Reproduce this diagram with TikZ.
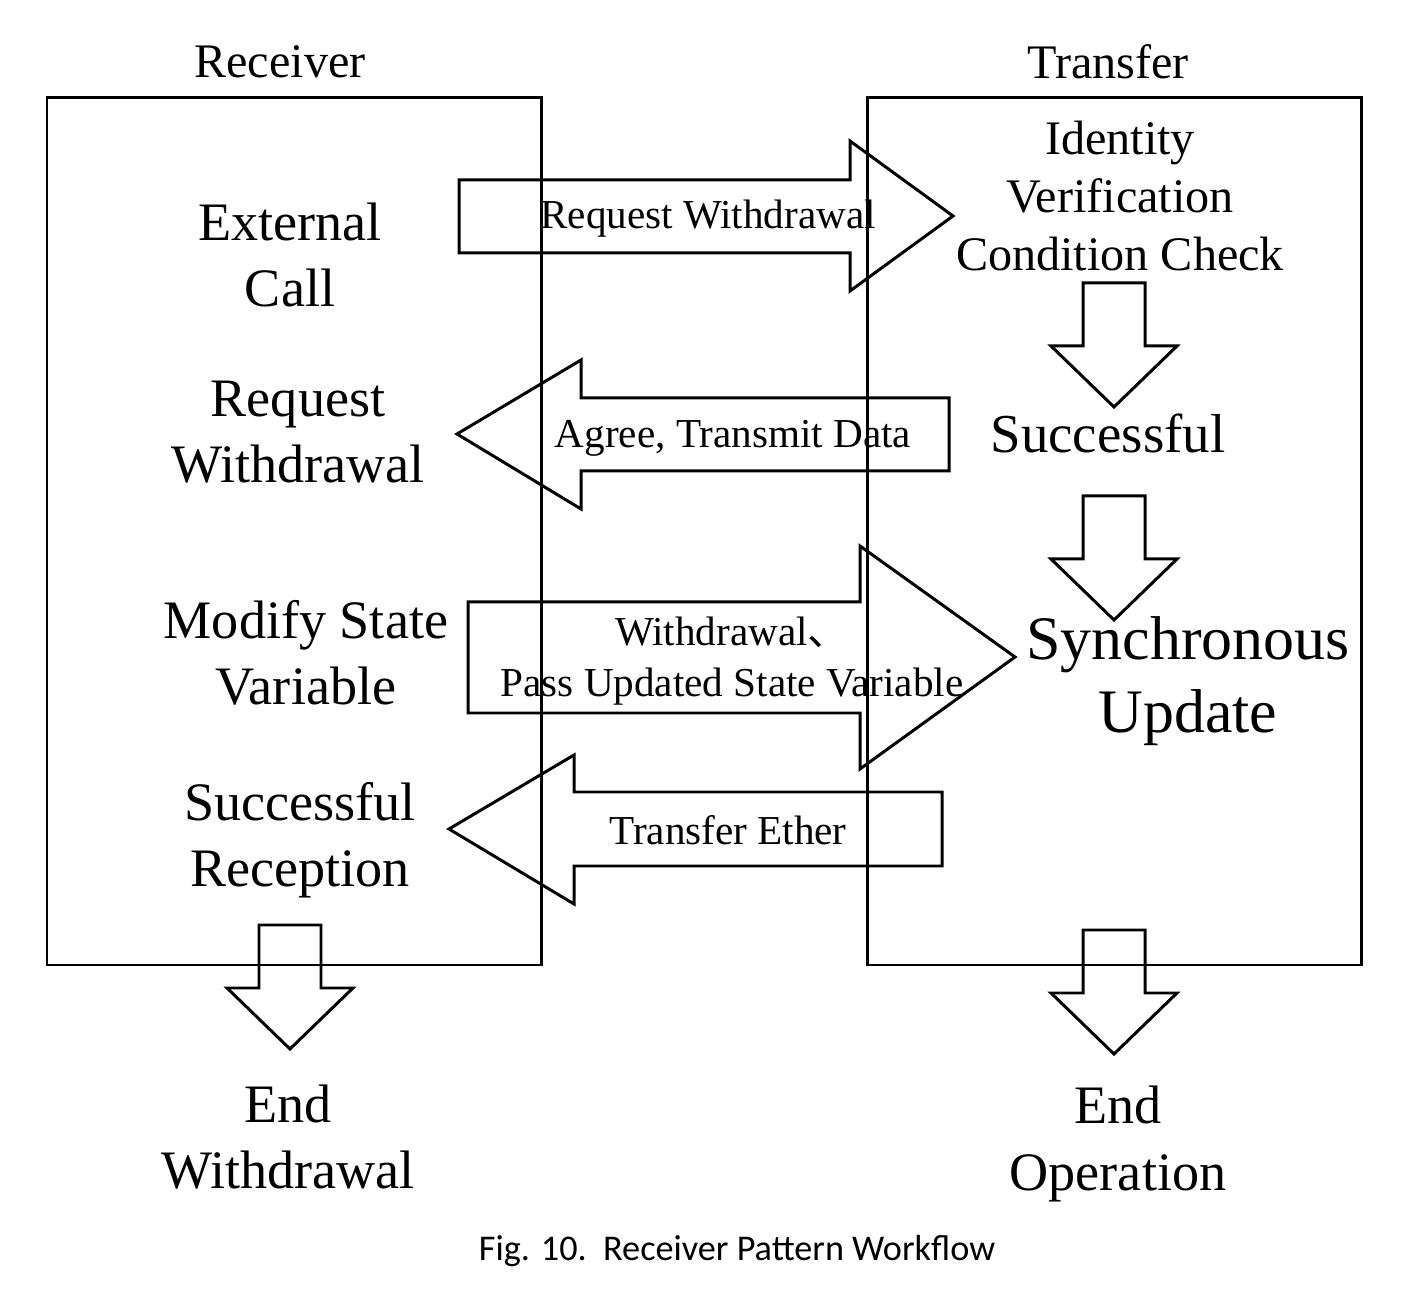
\documentclass[tikz,border=0pt]{standalone}
\usepackage{fontspec}
\setmainfont{Liberation Serif}
\newfontfamily\capfont{Carlito}
\newfontfamily\cjk{Noto Sans CJK SC}

\tikzset{
  lane/.style={draw,line width=0.85pt},
  blockarrow/.style={draw,line width=0.85pt,line join=miter},
  msg/.style={align=center,inner sep=0pt,font=\fontsize{11.7}{14.5}\selectfont},
  stage/.style={align=center,inner sep=0pt,font=\fontsize{15.4}{18.8}\selectfont},
  title/.style={inner sep=0pt,font=\fontsize{13.7}{16}\selectfont}
}

\begin{document}
\begin{tikzpicture}[x=0.01cm,y=-0.01cm]
  \useasboundingbox (0,0) rectangle (1418,1292);

  % the two lanes
  \draw[lane] (47,98) rectangle (541,965);
  \draw[lane] (867,98) rectangle (1361,965);
  \node[title] (receiver) at (280,62) {Receiver};
  \node[title] (transfer) at (1108,62) {Transfer};

  % receiver side
  \node[stage] (extcall) at (290,255) {External\\Call};
  \node[stage] (reqwd) at (298,432) {Request\\Withdrawal};
  \node[stage] (modify) at (306,653) {Modify State\\Variable};
  \node[stage] (reception) at (300,840) {Successful\\Reception};
  \node[stage] (endwd) at (288,1137) {End\\Withdrawal};

  % transfer side
  \node[stage,font=\fontsize{13.7}{16.5}\selectfont] (verify) at (1120,196)
    {Identity\\Verification\\Condition Check};
  \node[stage,font=\fontsize{15.6}{18.8}\selectfont] (success) at (1108,433) {Successful};
  \node[stage,font=\fontsize{17.6}{20.8}\selectfont] (sync) at (1188,681)
    {Synchronous\\Update};
  \node[stage] (endop) at (1118,1144) {End\\Operation};

  % messages between the lanes
  \draw[blockarrow] (459,180) -- (850,180) -- (850,141) -- (953,216)
    -- (850,291) -- (850,253) -- (459,253) -- cycle;
  \node[msg] (m1) at (708,219) {Request Withdrawal};

  \draw[blockarrow] (949,398) -- (581,398) -- (581,360) -- (457,434)
    -- (581,509) -- (581,471) -- (949,471) -- cycle;
  \node[msg] (m2) at (733,438) {Agree, Transmit Data};

  \draw[blockarrow] (468,602) -- (860,602) -- (860,546) -- (1015,657)
    -- (860,769) -- (860,713) -- (468,713) -- cycle;
  \node[msg] (m3) at (732,661) {Withdrawal{\cjk 、}\\Pass Updated State Variable};

  \draw[blockarrow] (942,792) -- (574,792) -- (574,755) -- (449,829)
    -- (574,904) -- (574,866) -- (942,866) -- cycle;
  \node[msg] (m4) at (728,830) {Transfer Ether};

  % downward steps
  \foreach \cx/\top in {1114/283, 1114/496, 1114/930, 290/925} {
    \draw[blockarrow] (\cx-31,\top) -- (\cx+31,\top) -- (\cx+31,\top+63)
      -- (\cx+63,\top+63) -- (\cx,\top+124) -- (\cx-63,\top+63)
      -- (\cx-31,\top+63) -- cycle;
  }

  \node[inner sep=0pt,font=\capfont\fontsize{10.3}{12}\selectfont] (caption) at (737,1251)
    {Fig. 10.\ \ Receiver Pattern Workflow};
\end{tikzpicture}
\end{document}
